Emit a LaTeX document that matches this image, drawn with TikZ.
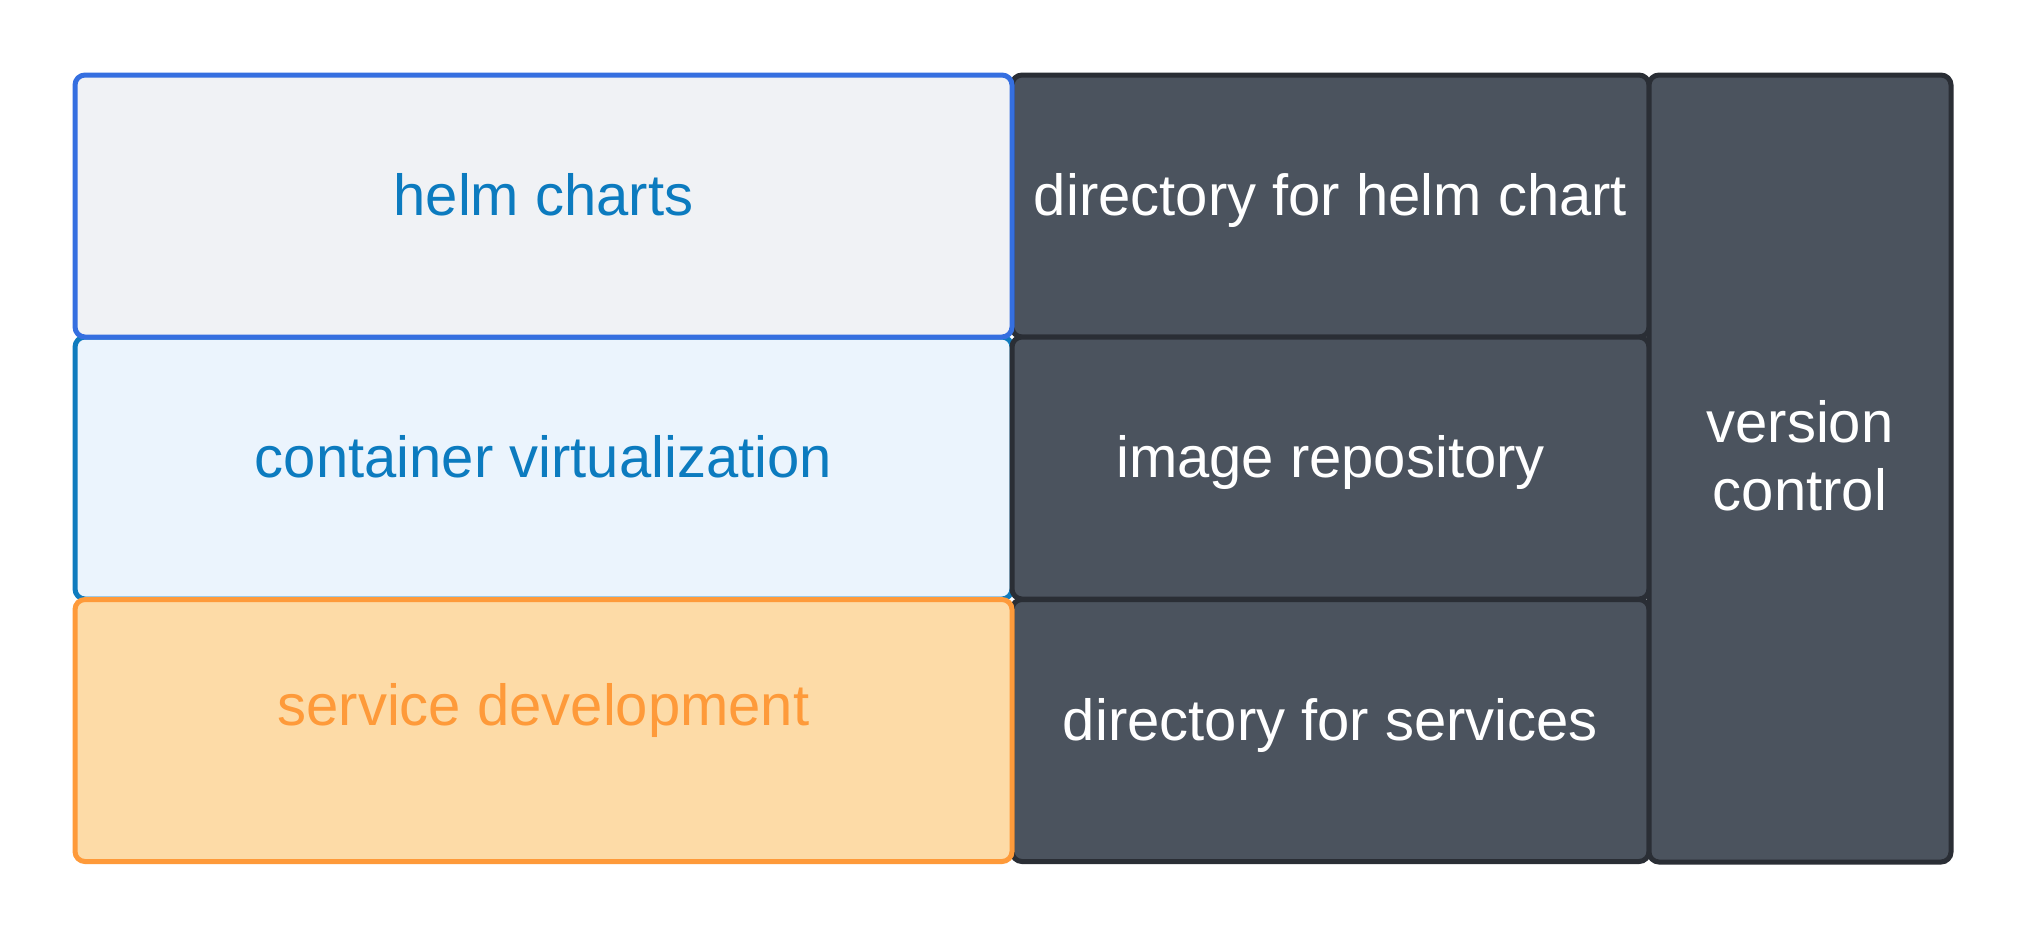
\documentclass[tikz,border=0pt]{standalone}
\usepackage{fontspec}
\setmainfont{Liberation Sans}
\definecolor{helmfill}{HTML}{F0F2F5}
\definecolor{helmline}{HTML}{356FE0}
\definecolor{contfill}{HTML}{EBF4FD}
\definecolor{contline}{HTML}{0F7BBE}
\definecolor{bluetext}{HTML}{0C7BBF}
\definecolor{servfill}{HTML}{FDDBA7}
\definecolor{servline}{HTML}{FE9A3A}
\definecolor{darkfill}{HTML}{4B535E}
\definecolor{darkline}{HTML}{2A2E35}
\tikzset{
  box/.style={rectangle, rounded corners=5pt, line width=2.5pt, inner sep=0pt},
  lightbox/.style={box, minimum width=468.5pt, minimum height=131pt},
  darkbox/.style={box, fill=darkfill, draw=darkline, minimum width=318.5pt, minimum height=131pt},
  lbl/.style={font=\fontsize{29}{34}\selectfont, inner sep=0pt, anchor=base, align=center},
}
\begin{document}
\begin{tikzpicture}[x=0.5pt,y=-0.5pt]
\useasboundingbox[fill=white] (0,0) rectangle (2025,938);
% left column
\node[lightbox, fill=contfill, draw=contline] (cv) at (543.5,468) {};
% middle column
\node[darkbox] (dh) at (1330.5,206) {};
\node[darkbox] (ir) at (1330.5,468) {};
\node[darkbox] (ds) at (1330.5,730.5) {};
% right column
\node[box, fill=darkfill, draw=darkline, minimum width=151pt, minimum height=393.5pt] (vc) at (1800,468.5) {};
% left column on top
\node[lightbox, fill=helmfill, draw=helmline] (hc) at (543.5,206) {};
\node[lightbox, fill=servfill, draw=servline] (sd) at (543.5,730.5) {};
% texts
\node[lbl, text=bluetext] (thc) at (543.5,215) {helm charts};
\node[lbl, text=bluetext] (tcv) at (543.5,477) {container virtualization};
\node[lbl, text=servline] (tsd) at (543.5,725) {service development};
\node[lbl, text=white] (tdh) at (1330.5,215) {directory for helm chart};
\node[lbl, text=white] (tir) at (1330.5,477) {image repository};
\node[lbl, text=white] (tds) at (1330.5,740) {directory for services};
\node[lbl, text=white] (tvc) at (1800,510) {version\\control};
\end{tikzpicture}
\end{document}
